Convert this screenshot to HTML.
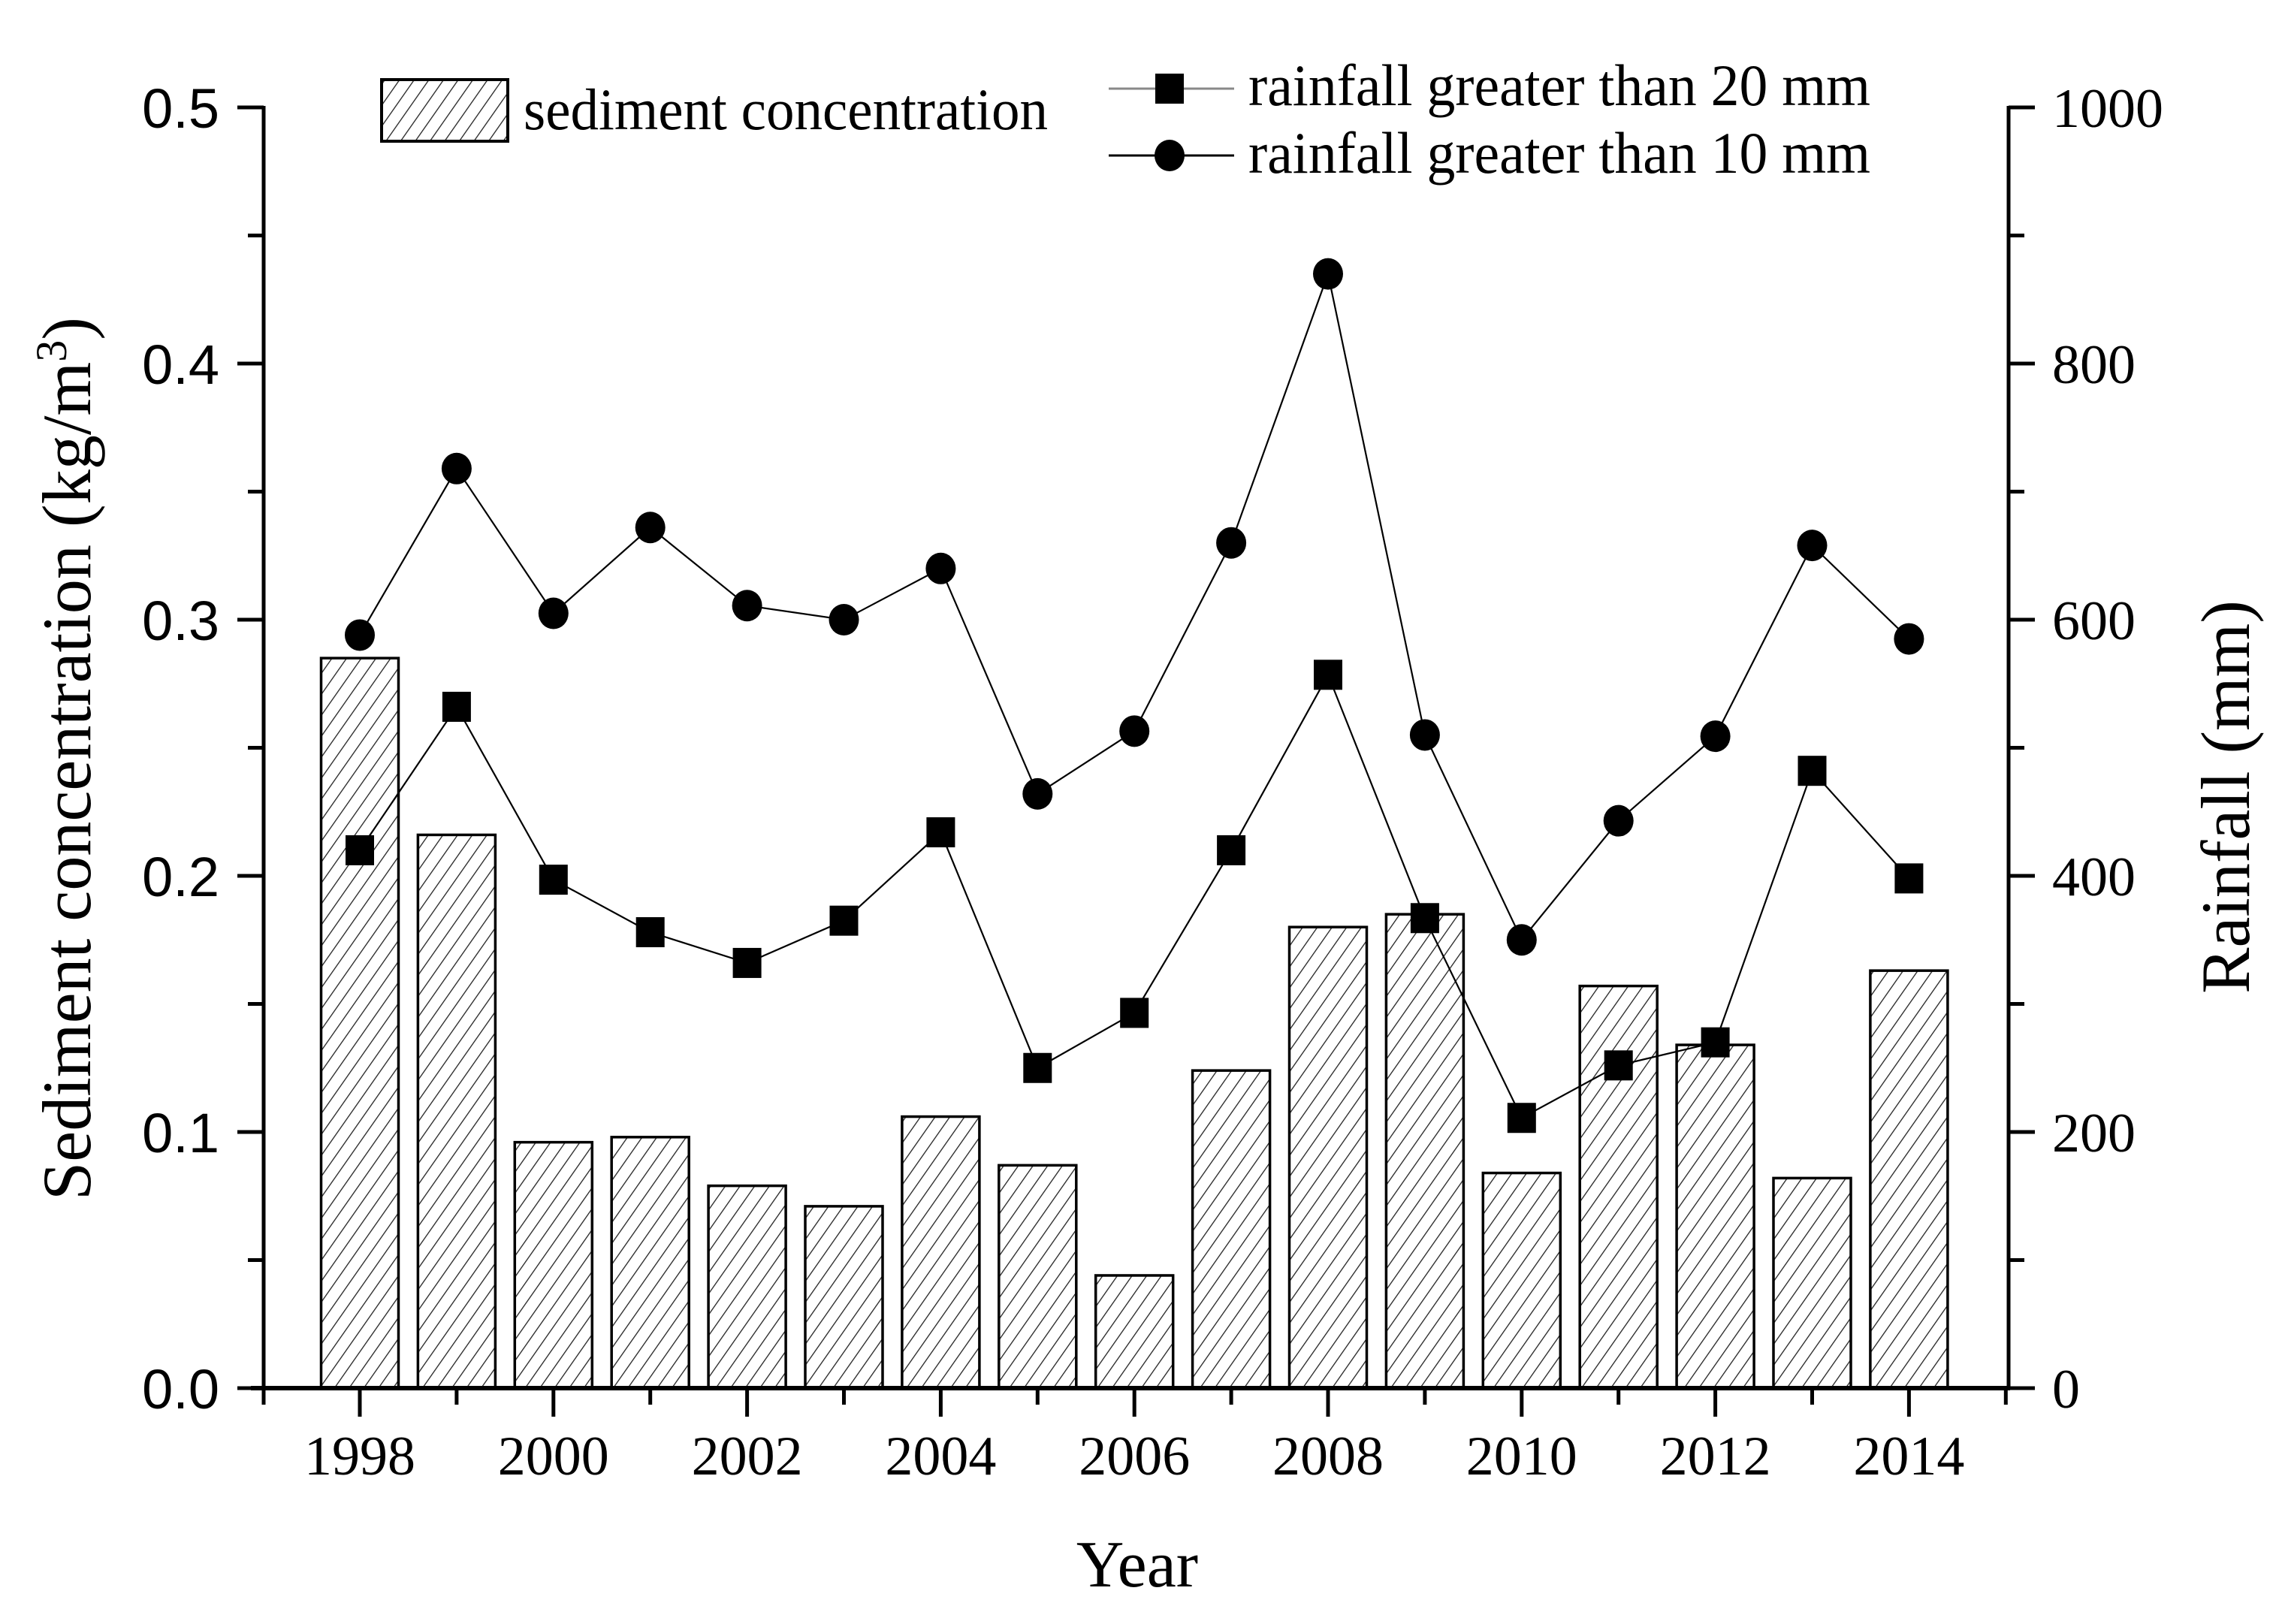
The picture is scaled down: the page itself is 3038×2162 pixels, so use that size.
<!DOCTYPE html>
<html><head><meta charset="utf-8"><style>html,body{margin:0;padding:0;background:#fff}svg{display:block}</style></head>
<body>
<svg id="chart" xmlns="http://www.w3.org/2000/svg" width="3038" height="2162" viewBox="0 0 3038 2162">
<defs>
<pattern id="hatch" patternUnits="userSpaceOnUse" width="16" height="16" patternTransform="rotate(35)">
<rect width="16" height="16" fill="#fff"/><line x1="0" y1="0" x2="0" y2="16" stroke="#222" stroke-width="2.6"/>
</pattern>
</defs>
<g id="bars"></g>
<g id="lines"></g>
<g id="axes"></g>
<g>
<rect x="508" y="106" width="168" height="82" fill="url(#hatch)" stroke="#000" stroke-width="4"/>
<text x="697" y="172" font-family="Liberation Serif, serif" font-size="78" textLength="698" lengthAdjust="spacingAndGlyphs">sediment concentration</text>
<line x1="1476" y1="118" x2="1643" y2="118" stroke="#888" stroke-width="3"/>
<rect x="1538" y="98" width="38" height="40" fill="#000"/>
<text x="1662" y="140" font-family="Liberation Serif, serif" font-size="78" textLength="828" lengthAdjust="spacingAndGlyphs">rainfall greater than 20 mm</text>
<line x1="1476" y1="207" x2="1643" y2="207" stroke="#000" stroke-width="3"/>
<ellipse cx="1557" cy="207" rx="20" ry="21" fill="#000"/>
<text x="1662" y="230" font-family="Liberation Serif, serif" font-size="78" textLength="828" lengthAdjust="spacingAndGlyphs">rainfall greater than 10 mm</text>
</g>
<text x="1514" y="2112" text-anchor="middle" font-family="Liberation Serif, serif" font-size="88">Year</text>
<text transform="translate(120,1010) rotate(-90)" text-anchor="middle" font-family="Liberation Serif, serif" font-size="92" textLength="1176" lengthAdjust="spacingAndGlyphs">Sediment concentration (kg/m<tspan baseline-shift="super" font-size="58">3</tspan>)</text>
<text transform="translate(2994,1061) rotate(-90)" text-anchor="middle" font-family="Liberation Serif, serif" font-size="92">Rainfall (mm)</text>
</svg>
<script>
const years = [1998,1999,2000,2001,2002,2003,2004,2005,2006,2007,2008,2009,2010,2011,2012,2013,2014];
const sediment = [0.285,0.216,0.096,0.098,0.079,0.071,0.106,0.087,0.044,0.124,0.180,0.185,0.084,0.157,0.134,0.082,0.163];
const rain20 = [420,532,397,356,332,365,434,250,293,420,557,367,211,252,270,482,398];
const rain10 = [588,718,605,672,611,600,640,464,513,660,870,510,350,443,509,658,585];
const leftTicks = ["0.0","0.1","0.2","0.3","0.4","0.5"];
const rightTicks = ["0","200","400","600","800","1000"];
const xTickLabels = [1998,2000,2002,2004,2006,2008,2010,2012,2014];

const NS="http://www.w3.org/2000/svg";
const X0=351, X1=2674, Y0=1848, Ytop=143;
const xs = y => 479 + (y-1998)*128.9;
const yl = v => Y0 - v/0.5*(Y0-Ytop);
const yr = v => Y0 - v/1000*(Y0-Ytop);
function mk(tag, attrs, parent){const e=document.createElementNS(NS,tag);for(const k in attrs)e.setAttribute(k,attrs[k]);parent.appendChild(e);return e;}
const bars=document.getElementById('bars'), lines=document.getElementById('lines'), axes=document.getElementById('axes');

years.forEach((yr_,i)=>{
  const b=mk('rect',{x:xs(yr_)-51.5,y:yl(sediment[i]),width:103,height:Y0-yl(sediment[i]),fill:'url(#hatch)',stroke:'#000','stroke-width':3.5},bars);
  
  
});

function series(vals, name, shape){
  const pts=years.map((y,i)=>xs(y)+','+yr(vals[i])).join(' ');
  const pl=mk('polyline',{points:pts,fill:'none',stroke:'#000','stroke-width':2.2},lines);
  
  
  years.forEach((y,i)=>{
    let m;
    if(shape==='sq') m=mk('rect',{x:xs(y)-19,y:yr(vals[i])-20,width:38,height:40,fill:'#000'},lines);
    else m=mk('ellipse',{cx:xs(y),cy:yr(vals[i]),rx:20,ry:21,fill:'#000'},lines);
    
    
  });
}
series(rain20,'rainfall-20mm','sq');
series(rain10,'rainfall-10mm','ci');

const la=mk('line',{x1:X0,y1:Ytop-2,x2:X0,y2:Y0+2,stroke:'#000','stroke-width':5},axes);


const ra=mk('line',{x1:X1,y1:Ytop-2,x2:X1,y2:Y0+2,stroke:'#000','stroke-width':5},axes);


const ba=mk('line',{x1:334,y1:Y0,x2:X1+2,y2:Y0,stroke:'#000','stroke-width':6},axes);



for(let i=0;i<=10;i++){
  const v=i*0.05, y=yl(v), major=i%2===0;
  mk('line',{x1:major?316:330,y1:y,x2:X0,y2:y,stroke:'#000','stroke-width':5},axes);
  mk('line',{x1:X1,y1:y,x2:major?X1+35:X1+21,y2:y,stroke:'#000','stroke-width':5},axes);
}
leftTicks.forEach((t,i)=>{
  const e=mk('text',{x:292,y:yl(i*0.1)+27,'text-anchor':'end','font-family':'Liberation Sans, sans-serif','font-size':74},axes);
  e.textContent=t;
  
  
});
rightTicks.forEach((t,i)=>{
  const e=mk('text',{x:2732,y:yr(i*200)+26,'font-family':'Liberation Serif, serif','font-size':74},axes);
  e.textContent=t;
  
  
});
mk('line',{x1:X0,y1:Y0,x2:X0,y2:Y0+22,stroke:'#000','stroke-width':5},axes);
years.forEach(y=>{
  const major=(y%2===0);
  mk('line',{x1:xs(y),y1:Y0,x2:xs(y),y2:Y0+(major?38:22),stroke:'#000','stroke-width':5},axes);
});
mk('line',{x1:xs(2015),y1:Y0,x2:xs(2015),y2:Y0+22,stroke:'#000','stroke-width':5},axes);
xTickLabels.forEach(y=>{
  const e=mk('text',{x:xs(y),y:1963,'text-anchor':'middle','font-family':'Liberation Serif, serif','font-size':74},axes);
  e.textContent=y;
  
  
});
</script>
</body></html>
